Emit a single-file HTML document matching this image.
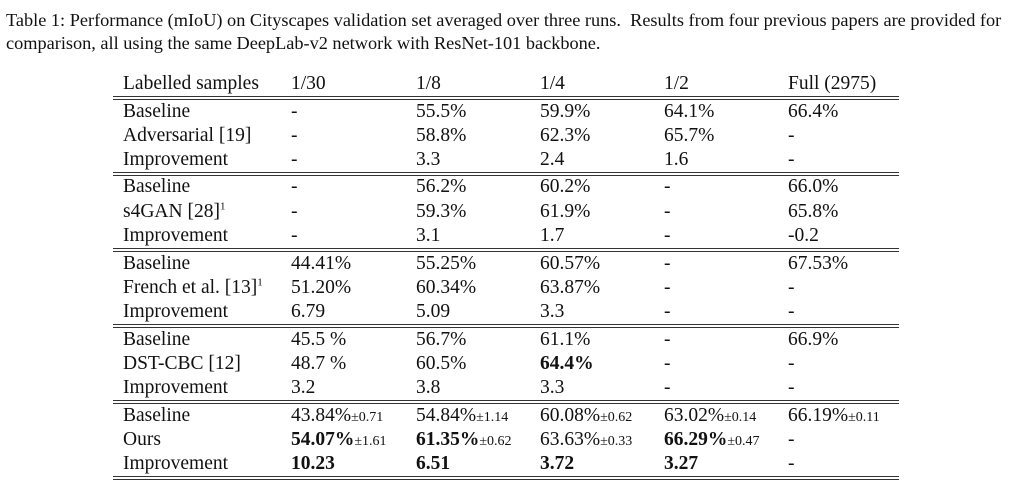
<!DOCTYPE html>
<html><head><meta charset="utf-8"><style>
body{margin:0;width:1024px;height:492px;background:#fff;position:relative;overflow:hidden;font-family:"Liberation Serif",serif;color:#111}
.c{position:absolute;font-size:19.5px;line-height:24px;height:24px;white-space:nowrap}
.cap{position:absolute;left:6px;font-size:18.3px;white-space:nowrap;line-height:20px}
.r{position:absolute;left:113px;width:786px;height:1px;background:#333}
.s{font-size:14px}
b{font-weight:bold}
sup{font-size:11px;line-height:0}
</style></head><body>
<div class="cap" style="top:10px">Table 1: Performance (mIoU) on Cityscapes validation set averaged over three runs. &nbsp;Results from four previous papers are provided for</div>
<div class="cap" style="top:33px">comparison, all using the same DeepLab-v2 network with ResNet-101 backbone.</div>
<div id="t"></div>
<script>
const X=[123,291,416,540,664,788];
const rows=[
[72,["Labelled samples","1/30","1/8","1/4","1/2","Full (2975)"]],
[100,["Baseline","-","55.5%","59.9%","64.1%","66.4%"]],
[124,["Adversarial [19]","-","58.8%","62.3%","65.7%","-"]],
[148,["Improvement","-","3.3","2.4","1.6","-"]],
[175,["Baseline","-","56.2%","60.2%","-","66.0%"]],
[200,["s4GAN [28]<sup>1</sup>","-","59.3%","61.9%","-","65.8%"]],
[224,["Improvement","-","3.1","1.7","-","-0.2"]],
[252,["Baseline","44.41%","55.25%","60.57%","-","67.53%"]],
[276,["French et al. [13]<sup>1</sup>","51.20%","60.34%","63.87%","-","-"]],
[300,["Improvement","6.79","5.09","3.3","-","-"]],
[328,["Baseline","45.5 %","56.7%","61.1%","-","66.9%"]],
[352,["DST-CBC [12]","48.7 %","60.5%","<b>64.4%</b>","-","-"]],
[376,["Improvement","3.2","3.8","3.3","-","-"]],
[404,["Baseline",'43.84%<span class="s">±0.71</span>','54.84%<span class="s">±1.14</span>','60.08%<span class="s">±0.62</span>','63.02%<span class="s">±0.14</span>','66.19%<span class="s">±0.11</span>']],
[428,["Ours",'<b>54.07%</b><span class="s">±1.61</span>','<b>61.35%</b><span class="s">±0.62</span>','63.63%<span class="s">±0.33</span>','<b>66.29%</b><span class="s">±0.47</span>','-']],
[452,["Improvement","<b>10.23</b>","<b>6.51</b>","<b>3.72</b>","<b>3.27</b>","-"]]];
let h="";
for(const [y,cs] of rows)cs.forEach((t,i)=>h+=`<div class="c" style="top:${y}px;left:${X[i]}px">${t}</div>`);
for(const y of [96,172,248,324,400,476])h+=`<div class="r" style="top:${y}px"></div><div class="r" style="top:${y+3}px"></div>`;
document.getElementById("t").innerHTML=h;
</script>
</body></html>
